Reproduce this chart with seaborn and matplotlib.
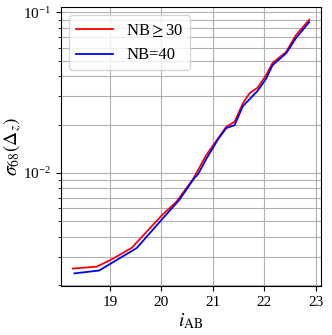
import numpy as np
import pandas as pd
import matplotlib
matplotlib.use('Agg')
import matplotlib.pyplot as plt
import seaborn as sns

# 데이터
mag_nb30 = [18.28, 18.74, 19.0, 19.42, 20.0, 20.29, 20.61, 20.71, 20.87, 21.1, 21.26,
            21.42, 21.58, 21.71, 21.87, 22.03, 22.16, 22.42, 22.61, 22.87]
sig_nb30 = [0.00253, 0.0026, 0.00285, 0.0034, 0.0054, 0.0066, 0.0091, 0.0104, 0.0129,
            0.0164, 0.0194, 0.0208, 0.0271, 0.0313, 0.034, 0.0405, 0.0485, 0.0566,
            0.072, 0.090]
mag_nb40 = [18.31, 18.79, 19.0, 19.52, 19.98, 20.35, 20.64, 20.71, 20.87, 21.1, 21.26,
            21.42, 21.58, 21.87, 22.03, 22.16, 22.42, 22.61, 22.87]
sig_nb40 = [0.00236, 0.00246, 0.0027, 0.0034, 0.0050, 0.0068, 0.0093, 0.0098, 0.0122,
            0.0162, 0.0190, 0.0198, 0.026, 0.0325, 0.0385, 0.047, 0.0555, 0.069, 0.087]
labels = [r'NB$\geq$30', 'NB=40']

df = pd.concat([
    pd.DataFrame({'mag': mag_nb30, 'sigma': sig_nb30, 'sample': labels[0]}),
    pd.DataFrame({'mag': mag_nb40, 'sigma': sig_nb40, 'sample': labels[1]}),
])

plt.rcParams['font.family'] = ['Liberation Serif', 'DejaVu Serif']
plt.rcParams['mathtext.fontset'] = 'stix'

fig = plt.figure(figsize=(3.32, 3.35), dpi=100)
ax = fig.add_axes([0.184, 0.146, 0.783, 0.833])

sns.lineplot(data=df, x='mag', y='sigma', hue='sample', sort=False,
             palette=['red', 'blue'], linewidth=1.3, ax=ax)

ax.set_yscale('log')
ax.grid(True, which='both', color='#b0b0b0', linewidth=0.8)
ax.set_xticks([19, 20, 21, 22, 23])
ax.tick_params(labelsize=11)
ax.set_xlabel(r'$i_{\rm AB}$', fontsize=14, labelpad=2)
ax.set_ylabel(r'$\sigma_{68}(\Delta_z)$', fontsize=14)
ax.yaxis.set_label_coords(-0.142, 0.5)
ax.legend(title=None, loc='upper left', fontsize=12, handlelength=2.2)

fig.savefig('out.png', dpi=100)
